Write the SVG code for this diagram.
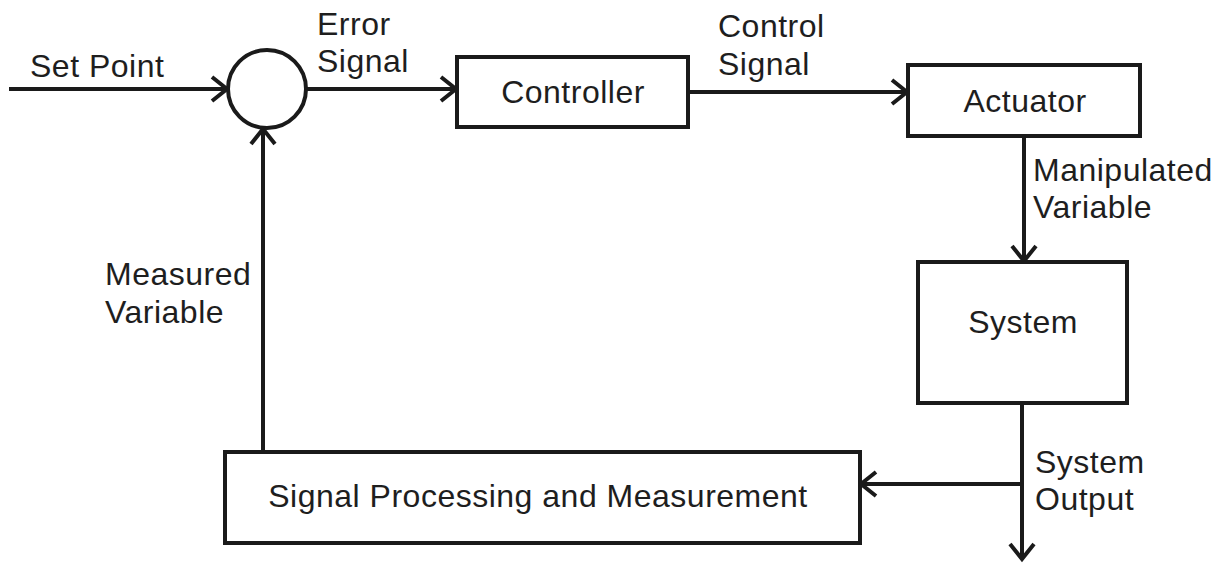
<svg xmlns="http://www.w3.org/2000/svg" width="1224" height="564" viewBox="0 0 1224 564">
  <style>
    .box { fill: #ffffff; stroke: #1a1a1a; stroke-width: 4; }
    .wire { fill: none; stroke: #1a1a1a; stroke-width: 4; }
    .lbl { font-family: "Liberation Sans", Arial, sans-serif; font-size: 32px; letter-spacing: 0.5px; fill: #1e1e1e; }
    .mid { text-anchor: middle; }
  </style>
  <defs>
    <marker id="arrow" markerUnits="userSpaceOnUse" viewBox="-18 -14 22 28" refX="0" refY="0" markerWidth="22" markerHeight="28" orient="auto">
      <path d="M -15 -12 L 0 0 L -15 12" fill="none" stroke="#1a1a1a" stroke-width="4" stroke-linejoin="miter"/>
    </marker>
  </defs>
  <rect width="1224" height="564" fill="#ffffff"/>

  <!-- connectors -->
  <g id="connectors">
    <line class="wire" x1="9" y1="89" x2="227" y2="89" marker-end="url(#arrow)"/>
    <line class="wire" x1="306" y1="89" x2="456" y2="89" marker-end="url(#arrow)"/>
    <line class="wire" x1="688" y1="92" x2="907" y2="92" marker-end="url(#arrow)"/>
    <line class="wire" x1="1024" y1="136" x2="1024" y2="261" marker-end="url(#arrow)"/>
    <line class="wire" x1="1022" y1="403" x2="1022" y2="559" marker-end="url(#arrow)"/>
    <line class="wire" x1="1022" y1="484" x2="861" y2="484" marker-end="url(#arrow)"/>
    <line class="wire" x1="263" y1="452" x2="263" y2="129" marker-end="url(#arrow)"/>
  </g>

  <g id="summing-junction">
    <circle cx="267" cy="89" r="39" class="box"/>
  </g>

  <g id="controller">
    <rect x="457" y="57" width="231" height="70" class="box"/>
    <text x="573" y="103" class="lbl mid">Controller</text>
  </g>

  <g id="actuator">
    <rect x="908" y="65" width="232" height="71" class="box"/>
    <text x="1025" y="112" class="lbl mid">Actuator</text>
  </g>

  <g id="system">
    <rect x="918" y="262" width="209" height="141" class="box"/>
    <text x="1023" y="333" class="lbl mid">System</text>
  </g>

  <g id="signal-processing">
    <rect x="225" y="452" width="635" height="91" class="box"/>
    <text x="538" y="507" class="lbl mid">Signal Processing and Measurement</text>
  </g>

  <!-- signal labels -->
  <g id="labels">
    <text x="30" y="77" class="lbl">Set Point</text>
    <text x="317" y="35" class="lbl">Error</text>
    <text x="317" y="72" class="lbl">Signal</text>
    <text x="718" y="37" class="lbl">Control</text>
    <text x="718" y="75" class="lbl">Signal</text>
    <text x="1033" y="181" class="lbl">Manipulated</text>
    <text x="1033" y="218" class="lbl">Variable</text>
    <text x="105" y="285" class="lbl">Measured</text>
    <text x="105" y="323" class="lbl">Variable</text>
    <text x="1035" y="473" class="lbl">System</text>
    <text x="1035" y="510" class="lbl">Output</text>
  </g>
</svg>
